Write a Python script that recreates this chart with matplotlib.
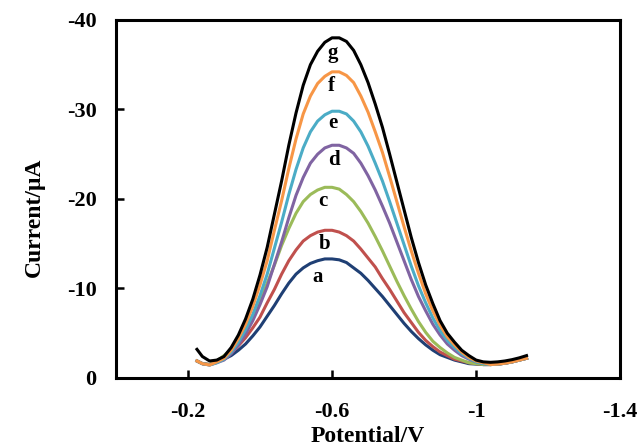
import matplotlib
matplotlib.use("Agg")
import matplotlib.pyplot as plt

# potential grid (V) shared by all scans
potential = [-0.225, -0.24, -0.26, -0.28, -0.30, -0.32, -0.34, -0.36, -0.38, -0.40,
             -0.42, -0.44, -0.46, -0.48, -0.50, -0.52, -0.54, -0.56, -0.58, -0.60,
             -0.62, -0.64, -0.66, -0.68, -0.70, -0.72, -0.74, -0.76, -0.78, -0.80,
             -0.82, -0.84, -0.86, -0.88, -0.90, -0.92, -0.94, -0.96, -0.98, -1.00,
             -1.02, -1.04, -1.06, -1.08, -1.10, -1.12, -1.14]

# currents (uA, plotted on a reversed axis)
cur_a = [1.9, 1.6, 1.5, 1.8, 2.1, 2.5, 3.1, 3.8, 4.7, 5.7,
         6.9, 8.1, 9.4, 10.6, 11.6, 12.3, 12.8, 13.1, 13.3, 13.3,
         13.2, 12.9, 12.3, 11.7, 10.9, 10.0, 9.1, 8.1, 7.1, 6.1,
         5.2, 4.4, 3.7, 3.1, 2.6, 2.3, 2.0, 1.8, 1.6, 1.55,
         1.5, 1.5, 1.55, 1.65, 1.8, 2.0, 2.2]
cur_b = [1.9, 1.6, 1.5, 1.8, 2.2, 2.8, 3.6, 4.5, 5.6, 6.8,
         8.4, 9.9, 11.6, 13.1, 14.3, 15.3, 15.9, 16.3, 16.5, 16.5,
         16.3, 15.9, 15.3, 14.4, 13.4, 12.4, 11.1, 9.9, 8.6, 7.3,
         6.2, 5.1, 4.2, 3.5, 2.9, 2.5, 2.1, 1.9, 1.7, 1.6,
         1.5, 1.5, 1.55, 1.65, 1.8, 2.0, 2.2]
cur_c = [1.9, 1.6, 1.5, 1.9, 2.5, 3.2, 4.2, 5.4, 6.9, 8.6,
         10.6, 12.6, 14.8, 16.7, 18.4, 19.7, 20.5, 21.0, 21.3, 21.3,
         21.1, 20.5, 19.7, 18.6, 17.3, 15.8, 14.2, 12.5, 10.8, 9.2,
         7.7, 6.3, 5.1, 4.1, 3.4, 2.8, 2.3, 2.0, 1.7, 1.6,
         1.5, 1.5, 1.55, 1.65, 1.8, 2.0, 2.2]
cur_d = [1.9, 1.6, 1.45, 1.7, 2.0, 2.7, 3.7, 4.9, 6.4, 8.2,
         10.2, 12.7, 15.2, 17.9, 20.4, 22.4, 24.0, 25.0, 25.7, 26.0,
         26.0, 25.7, 25.1, 24.0, 22.6, 21.0, 19.2, 17.3, 15.2, 13.1,
         11.0, 9.1, 7.5, 6.0, 4.8, 3.8, 3.1, 2.5, 2.1, 1.8,
         1.6, 1.5, 1.55, 1.65, 1.8, 2.0, 2.2]
cur_e = [1.9, 1.6, 1.45, 1.7, 2.1, 2.9, 4.0, 5.4, 7.1, 9.2,
         11.6, 14.5, 17.4, 20.5, 23.3, 25.7, 27.5, 28.7, 29.4, 29.8,
         29.8, 29.5, 28.7, 27.5, 25.9, 24.0, 22.0, 19.7, 17.3, 14.9,
         12.5, 10.3, 8.4, 6.7, 5.3, 4.2, 3.4, 2.7, 2.2, 1.8,
         1.6, 1.5, 1.55, 1.65, 1.8, 2.0, 2.2]
cur_f = [1.9, 1.6, 1.45, 1.8, 2.2, 3.1, 4.4, 6.0, 8.0, 10.4,
         13.1, 16.5, 19.8, 23.4, 26.7, 29.5, 31.5, 32.9, 33.7, 34.2,
         34.2, 33.8, 33.0, 31.5, 29.7, 27.5, 25.2, 22.5, 19.7, 16.9,
         14.2, 11.7, 9.4, 7.5, 5.9, 4.6, 3.7, 2.9, 2.3, 1.9,
         1.7, 1.5, 1.55, 1.65, 1.8, 2.0, 2.2]
cur_g = [3.2, 2.4, 1.9, 2.0, 2.4, 3.4, 4.8, 6.6, 8.8, 11.5,
         14.6, 18.3, 22.0, 26.0, 29.6, 32.7, 35.0, 36.5, 37.5, 38.0,
         38.0, 37.6, 36.6, 35.0, 33.0, 30.6, 28.0, 25.0, 21.9, 18.8,
         15.7, 12.9, 10.4, 8.3, 6.4, 5.0, 4.0, 3.1, 2.5, 2.0,
         1.8, 1.75, 1.8, 1.9, 2.05, 2.25, 2.5]

names = ['a', 'b', 'c', 'd', 'e', 'f', 'g']
colors = ['#1f3f74', '#c0504d', '#9bbb59', '#8064a2', '#4bacc6', '#f79646', '#000000']
# curve letter positions (V, uA)
label_x = [-0.56, -0.58, -0.575, -0.605, -0.603, -0.597, -0.603]
label_y = [11.3, 15.0, 19.8, 24.4, 28.5, 32.6, 36.3]

plt.rcParams['font.family'] = ['Liberation Serif', 'DejaVu Serif']
plt.rcParams['font.weight'] = 'bold'

fig = plt.figure(figsize=(6.44, 4.47), dpi=100)
ax = fig.add_axes([0.180, 0.1544, 0.783, 0.801])

curves = [cur_a, cur_b, cur_c, cur_d, cur_e, cur_f, cur_g]
for cur, col in zip(curves, colors):
    ax.plot(potential, [-v for v in cur], color=col, lw=2.2,
            solid_joinstyle='round')

for n, lx, ly in zip(names, label_x, label_y):
    ax.text(lx, -ly, n, ha='center', va='center', fontsize=15, fontweight='bold')

ax.set_xlim(0, -1.4)
ax.set_ylim(0, -40)
ax.set_xticks([-0.2, -0.6, -1.0, -1.4])
ax.set_xticklabels(['-0.2', '-0.6', '-1', '-1.4'])
ax.set_yticks([0, -10, -20, -30, -40])
ax.set_yticklabels(['0', '-10', '-20', '-30', '-40'])
ax.tick_params(direction='in', length=6, width=1.8, labelsize=16, pad=17)
ax.tick_params(axis='y', pad=14)
for s in ax.spines.values():
    s.set_linewidth(2.2)

ax.set_xlabel('Potential/V', fontsize=17, fontweight='bold', labelpad=3)
ax.set_ylabel('Current/\u03bcA', fontsize=17, fontweight='bold', labelpad=10)
ax.yaxis.set_label_coords(-0.14, 0.45)

fig.savefig('out.png', dpi=100)
